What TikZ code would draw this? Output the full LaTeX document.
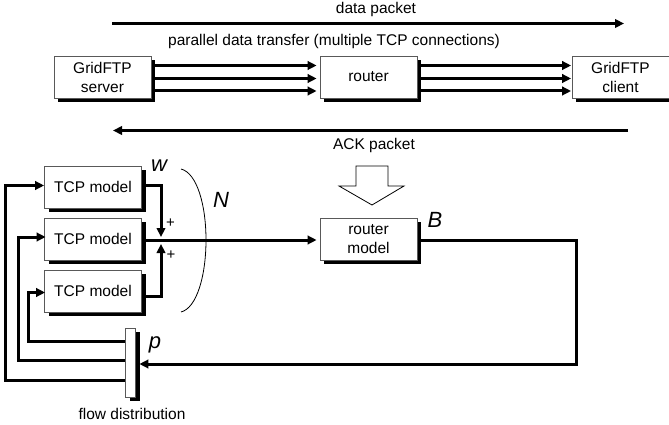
\documentclass[tikz,border=0pt]{standalone}
\usepackage{fontspec}
\setmainfont{Liberation Sans}
\usetikzlibrary{arrows.meta,shadows,calc}
\tikzset{
  x=1pt,y=-1pt,
  blockbox/.style={draw=black!65,line width=0.8pt,fill=white,minimum width=97pt,minimum height=42pt,inner sep=0pt,align=center,font=\fontsize{15.5}{19}\selectfont,
    drop shadow={shadow xshift=4pt,shadow yshift=-4pt,fill=black,opacity=1}},
  barbox/.style={draw=black!65,line width=0.8pt,fill=white,minimum width=10pt,minimum height=69pt,inner sep=0pt,
    drop shadow={shadow xshift=4pt,shadow yshift=-4pt,fill=black,opacity=1}},
  flow/.style={line width=3pt,-{Triangle[length=9pt,width=8.5pt]}},
  feed/.style={line width=3pt,line join=miter,-{Triangle[length=9pt,width=8.5pt]}},
  lab/.style={font=\fontsize{15.5}{19}\selectfont,inner sep=0pt},
  sym/.style={font=\fontsize{22}{24}\selectfont\itshape,inner sep=0pt},
  plus/.style={font=\fontsize{15}{17}\selectfont,inner sep=0pt},
}
\begin{document}
\begin{tikzpicture}
\path[use as bounding box] (0,0) rectangle (669,425);
\clip (0,0) rectangle (669,425);
% upper row
\node[blockbox] (server) at (102.5,77) {GridFTP\\server};
\node[blockbox] (router) at (368.5,77) {router};
\node[blockbox] (client) at (620.5,77) {GridFTP\\client};
\foreach \d in {-11.5,1.5,14}{
  \draw[flow] ($(server.east)+(3,\d)$) -- ($(router.west)+(-3,\d)$);
  \draw[flow] ($(router.east)+(3,\d)$) -- ($(client.west)+(-0.5,\d)$);
}
\coordinate (dataL) at (112,23.5);
\coordinate (dataR) at (624,23.5);
\coordinate (ackR) at (628,130.5);
\coordinate (ackL) at (113,130.5);
\draw[flow] (dataL) -- (dataR);
\draw[flow] (ackR) -- (ackL);
\node[lab] (datalab) at (376,9) {data packet};
\node[lab] (parlab) at (334,41) {parallel data transfer (multiple TCP connections)};
\node[lab] (acklab) at (374,145) {ACK packet};
% hollow arrow
\draw[line width=0.8pt,fill=white,line join=miter] (356,166) -- (388,166) -- (388,186) -- (404,186) -- (372,205) -- (339,186) -- (356,186) -- cycle;
% lower part
\node[blockbox] (t1) at (93,187) {TCP model};
\node[blockbox] (t2) at (93,239) {TCP model};
\node[blockbox] (t3) at (93,291) {TCP model};
\node[blockbox] (rm) at (368.5,239) {router\\model};
\node[barbox] (bar) at (130.5,362.5) {};
\coordinate (sumT) at (161,237);
\coordinate (sumB) at (161,244);
\coordinate (corner) at (576,240);
\draw[feed] ($(t1.east)+(3,-2)$) -| (sumT);
\draw[feed] ($(t3.east)+(3,5)$) -| (sumB);
\draw[flow] ($(t2.east)+(3,1)$) -- ($(rm.west)+(-3,1)$);
\draw[feed] ($(rm.east)+(3,1)$) -- (corner) |- ($(bar.east)+(3.5,1.5)$);
\draw[feed] ($(bar.west)+(0,-21.5)$) -| (28,292.5) -- ($(t3.west)+(1,1.5)$);
\draw[feed] ($(bar.west)+(0,-2.5)$) -| (18,237) -- ($(t2.west)+(1.5,-2)$);
\draw[feed] ($(bar.west)+(0,17.5)$) -| (5,185.5) -- ($(t1.west)+(0,-1.5)$);
% brace
\draw[line width=0.8pt] (181,169) .. controls (197,173) and (206,205) .. (206,240) .. controls (206,275) and (197,308) .. (181,312);
% labels
\node[sym] (w) at (159,166) {w};
\node[sym] (N) at (221,200) {N};
\node[sym] (B) at (435,220) {B};
\node[sym] (p) at (155,345) {p};
\node[plus] (p1) at (170.5,223) {+};
\node[plus] (p2) at (171,255) {+};
\node[lab] (fd) at (132,414) {flow distribution};
\end{tikzpicture}
\end{document}
